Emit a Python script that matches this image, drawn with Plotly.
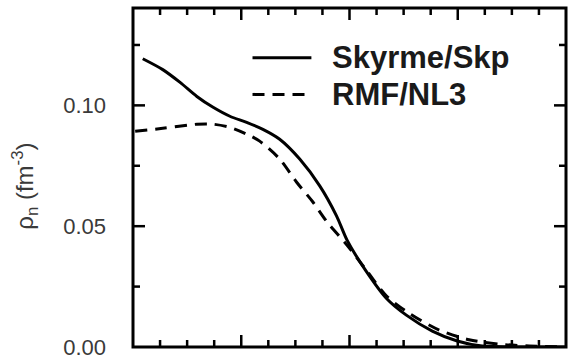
import plotly.graph_objects as go

# Neutron density profiles rho_n(r)
r_skp = [0.18, 0.55, 0.87, 1.18, 1.48, 1.79, 2.10, 2.40, 2.71, 3.08, 3.45, 3.76, 3.96,
         4.31, 4.68, 5.05, 5.53, 5.99, 6.45, 7.13, 8.0]
rho_skp = [0.1193, 0.1148, 0.1095, 0.1037, 0.0992, 0.0955, 0.0930, 0.0901, 0.0860, 0.0778,
           0.0667, 0.0543, 0.0440, 0.0313, 0.0202, 0.0132, 0.0066, 0.0025, 0.0004, 0.0, 0.0]

r_nl3 = [0.04, 0.55, 1.18, 1.48, 1.79, 2.10, 2.34, 2.71, 3.02, 3.32, 3.58, 3.96, 4.31,
         4.68, 5.10, 5.66, 6.21, 6.76, 7.32, 8.0]
rho_nl3 = [0.0893, 0.0905, 0.0922, 0.0922, 0.0909, 0.0881, 0.0852, 0.0778, 0.0683, 0.0601,
           0.0519, 0.0420, 0.0318, 0.0212, 0.0140, 0.0070, 0.0030, 0.0012, 0.0004, 0.0001]

legend_names = ["Skyrme/Skp", "RMF/NL3"]
y_ticks = [0.0, 0.05, 0.10]
y_tick_text = ["0.00", "0.05", "0.10"]
y_minor_ticks = [0.025, 0.075, 0.125]
x_ticks = [2, 4, 6]
x_minor_ticks = [0.5, 1.0, 1.5, 2.5, 3.0, 3.5, 4.5, 5.0, 5.5, 6.5, 7.0, 7.5]
y_title = "ρ<sub>n</sub> (fm<sup>-3</sup>)"

FONT = "Liberation Sans, Arial, Helvetica"
X_RANGE = [0, 8]
Y_RANGE = [0, 0.1403]
MAJOR_LEN, MINOR_LEN, TICK_W = 12, 7, 2.5

fig = go.Figure()
fig.add_trace(go.Scatter(x=r_skp, y=rho_skp, mode="lines", name=legend_names[0],
                         line=dict(color="black", width=3, shape="spline", smoothing=0.8)))
fig.add_trace(go.Scatter(x=r_nl3, y=rho_nl3, mode="lines", name=legend_names[1],
                         line=dict(color="black", width=3, dash="12px,8px",
                                   shape="spline", smoothing=0.8)))

# Inward tick marks on all four sides, sized in pixels
tick_line = dict(color="black", width=TICK_W)
for vals, length in ((x_ticks, MAJOR_LEN), (x_minor_ticks, MINOR_LEN)):
    for v in vals:
        for anchor, sign in ((0, 1), (1, -1)):
            fig.add_shape(type="line", xref="x", yref="paper", ysizemode="pixel",
                          yanchor=anchor, x0=v, x1=v, y0=0, y1=sign * length,
                          line=tick_line, layer="above")
for vals, length in ((y_ticks[1:], MAJOR_LEN), (y_minor_ticks, MINOR_LEN)):
    for v in vals:
        for anchor, sign in ((0, 1), (1, -1)):
            fig.add_shape(type="line", xref="paper", yref="y", xsizemode="pixel",
                          xanchor=anchor, y0=v, y1=v, x0=0, x1=sign * length,
                          line=tick_line, layer="above")

# Box frame
fig.add_shape(type="rect", xref="paper", yref="paper", x0=0, x1=1, y0=0, y1=1,
              line=dict(color="black", width=3), layer="above")

# Hand-placed legend: long sample lines with bold labels
legend_rows = [(0.853, "solid"), (0.745, "12px,8px")]
for (yp, dash), name in zip(legend_rows, legend_names):
    fig.add_shape(type="line", xref="paper", yref="paper", x0=0.276, x1=0.412, y0=yp, y1=yp,
                  line=dict(color="black", width=3, dash=dash))
    fig.add_annotation(xref="paper", yref="paper", x=0.455, y=yp, text=f"<b>{name}</b>",
                       showarrow=False, xanchor="left", yanchor="middle",
                       font=dict(family=FONT, size=31, color="#1a1a1a"))

# Rotated y-axis title
fig.add_annotation(xref="paper", yref="paper", x=-0.25, y=0.475, text=y_title,
                   textangle=-90, showarrow=False, xanchor="center", yanchor="middle",
                   font=dict(family=FONT, size=24, color="#3a3a3a"))

fig.update_layout(
    width=570, height=364, showlegend=False,
    margin=dict(l=133, r=4, t=8, b=15),
    plot_bgcolor="white", paper_bgcolor="white",
    xaxis=dict(range=X_RANGE, showticklabels=False, showgrid=False, zeroline=False,
               showline=False, ticks=""),
    yaxis=dict(range=Y_RANGE, tickvals=y_ticks, ticktext=y_tick_text,
               showgrid=False, zeroline=False, showline=False, ticks="",
               ticklabelstandoff=26,
               tickfont=dict(family=FONT, size=22, color="#3a3a3a")),
)

fig.write_html("out.html")
